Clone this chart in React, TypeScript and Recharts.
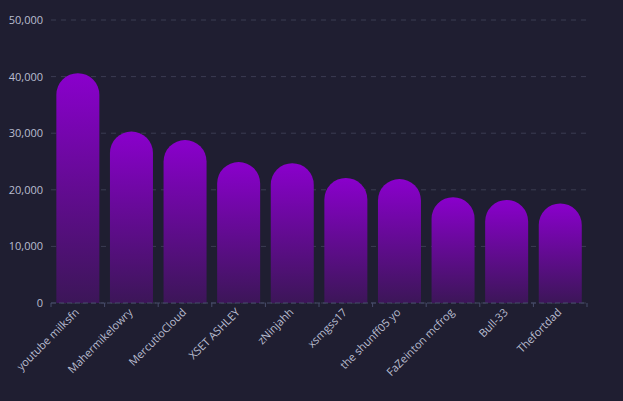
import React from "react";
import { BarChart, Bar, XAxis, YAxis, CartesianGrid } from "recharts";

const players = [
  "youtube milksfn",
  "Mahermikelowry",
  "MercutioCloud",
  "XSET ASHLEY",
  "zNinjahh",
  "xsmgss17",
  "the shunff05 yo",
  "FaZeinton mcfrog",
  "Bull-33",
  "Thefortdad",
];
const scores = [40600, 30300, 28800, 24900, 24700, 22100, 21900, 18700, 18200, 17600];
const yTicks = [0, 10000, 20000, 30000, 40000, 50000];

const data = players.map((name, i) => ({ name, value: scores[i] }));

const textColor = "#b9bdd0";
const axisColor = "#474c6a";
const font = "'Open Sans', 'Noto Sans', sans-serif";

const XTick = (props: any) => {
  const { x, y, payload, index } = props;
  const half = payload && payload.offset ? payload.offset : 26.8;
  const axisY = y - 7;
  return (
    <g>
      <line x1={x - half} x2={x - half} y1={axisY} y2={axisY + 4} stroke={axisColor} />
      {index === players.length - 1 ? (
        <line x1={x + half} x2={x + half} y1={axisY} y2={axisY + 4} stroke={axisColor} />
      ) : null}
      <g transform={`translate(${x + 2},${y + 3})`}>
        <text
          x={0}
          y={0}
          textAnchor="end"
          fill={textColor}
          fontSize={11}
          fontFamily={font}
          transform="rotate(-45)"
        >
          {payload.value}
        </text>
      </g>
    </g>
  );
};

export default function App() {
  return (
    <div
      style={{
        position: "fixed",
        left: 0,
        top: 0,
        width: 623,
        height: 401,
        background: "#1f1e31",
      }}
    >
      <BarChart
        width={623}
        height={401}
        data={data}
        margin={{ top: 20, right: 36, left: 6, bottom: 0 }}
        barCategoryGap="10%"
      >
        <defs>
          <linearGradient id="barGrad" x1="0" y1="0" x2="0" y2="1">
            <stop offset="0%" stopColor="#8a00cc" />
            <stop offset="100%" stopColor="#3c1658" />
          </linearGradient>
        </defs>
        <CartesianGrid
          vertical={false}
          stroke="#3b3c52"
          strokeDasharray="5 5"
        />
        <XAxis
          dataKey="name"
          interval={0}
          height={98}
          tick={<XTick />}
          axisLine={{ stroke: axisColor, strokeDasharray: "5 3" }}
          tickLine={false}
          tickSize={5}
        />
        <YAxis
          width={45}
          domain={[0, 50000]}
          ticks={yTicks}
          axisLine={false}
          tickLine={false}
          tick={{ fill: textColor, fontSize: 11, fontFamily: font }}
          tickFormatter={(v: number) => v.toLocaleString("en-US")}
        />
        <Bar
          dataKey="value"
          fill="url(#barGrad)"
          radius={[22, 22, 0, 0]}
          isAnimationActive={false}
        />
      </BarChart>
    </div>
  );
}
